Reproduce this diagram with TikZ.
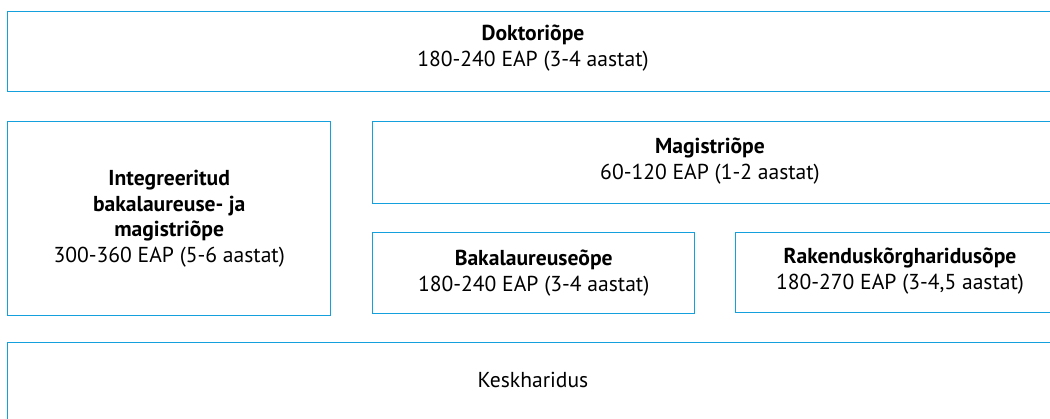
\documentclass[tikz,border=0pt]{standalone}
\usepackage{fontspec}
\setmainfont{PT Sans}
\usetikzlibrary{positioning}
\definecolor{tierblue}{RGB}{20,160,220}

\begin{document}
\begin{tikzpicture}[x=1pt, y=-1pt,
    tier/.style={draw=tierblue, line width=1.4pt, anchor=north west, inner sep=0pt},
    tiertext/.style={align=center, font=\fontsize{21.6}{25.5}\selectfont, inner sep=0pt}]
    \useasboundingbox (0,0) rectangle (1050,418);
    \clip (0,0) rectangle (1050,418);

    % Doktoriope
    \node[tier, minimum width=1060pt, minimum height=80pt] (dok) at (7,11) {};
    \node[tiertext] (doktxt) at (533,48) {\textbf{Doktoriõpe}\\180-240 EAP (3-4 aastat)};

    % Integreeritud
    \node[tier, minimum width=323pt, minimum height=194pt] (integ) at (7,121) {};
    \node[tiertext] (integtxt) at (integ.center) {\textbf{Integreeritud}\\\textbf{bakalaureuse- ja}\\\textbf{magistriõpe}\\300-360 EAP (5-6 aastat)};

    % Magistriope
    \node[tier, minimum width=700pt, minimum height=82pt] (mag) at (372,121) {};
    \node[tiertext] (magtxt) at (710,161) {\textbf{Magistriõpe}\\60-120 EAP (1-2 aastat)};

    % Bakalaureuseope
    \node[tier, minimum width=322pt, minimum height=81pt] (bak) at (372,232) {};
    \node[tiertext] (baktxt) at (bak.center) {\textbf{Bakalaureuseõpe}\\180-240 EAP (3-4 aastat)};

    % Rakenduskorgharidusope
    \node[tier, minimum width=400pt, minimum height=80pt] (rak) at (735,232) {};
    \node[tiertext] (raktxt) at (900,271) {\textbf{Rakenduskõrgharidusõpe}\\180-270 EAP (3-4,5 aastat)};

    % Keskharidus
    \node[tier, minimum width=1060pt, minimum height=100pt] (kesk) at (7,342) {};
    \node[tiertext] (kesktxt) at (533,380) {Keskharidus};
\end{tikzpicture}
\end{document}
